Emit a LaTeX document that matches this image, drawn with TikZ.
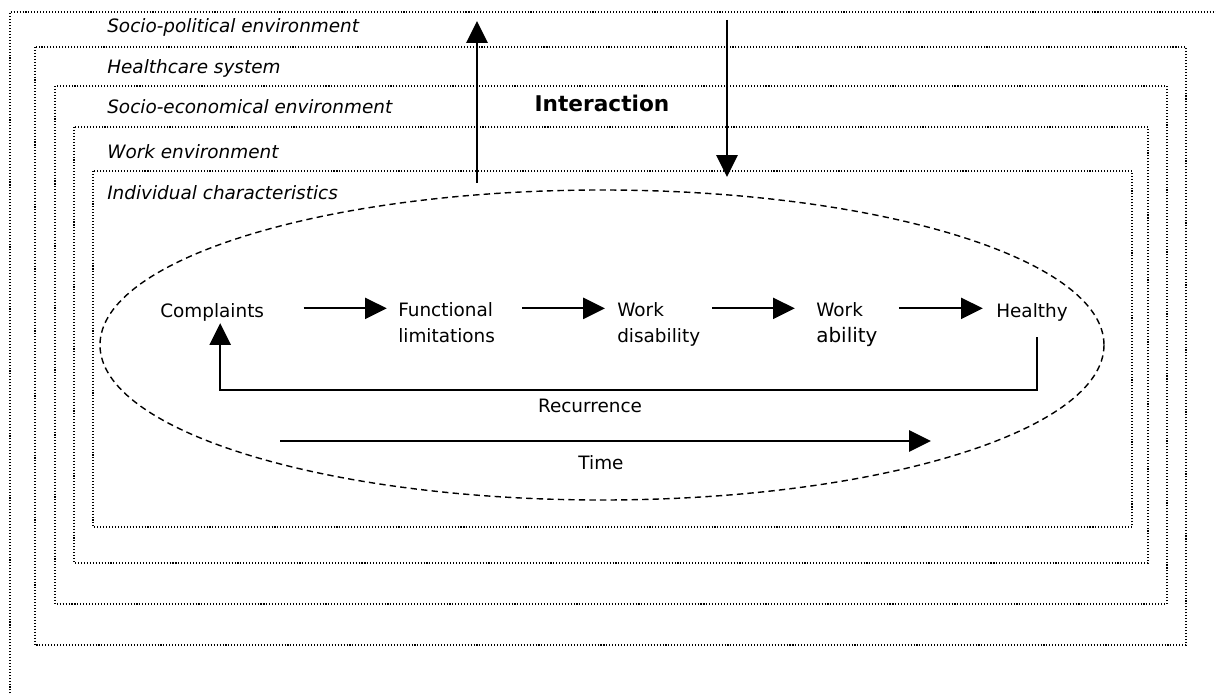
\documentclass[tikz,border=0pt]{standalone}
\usepackage{fontspec}
\setmainfont{DejaVu Sans}
\usetikzlibrary{arrows.meta}

\tikzset{
    layer/.style={dash pattern=on 0.75pt off 1.35pt, line width=0.75pt},
    layerlabel/.style={anchor=west, inner sep=0pt, font=\fontsize{13.1}{15.7}\selectfont\itshape},
    stage/.style={inner sep=0pt, align=left, font=\fontsize{13.1}{17.8}\selectfont},
    flow/.style={line width=1.5pt, -{Triangle[length=15.5pt,width=15pt]}},
}

\begin{document}
\begin{tikzpicture}[x=0.025cm, y=-0.025cm]
            \useasboundingbox (0,0) rectangle (1216,695);
            % Nested environments
            \draw[layer] (  10, 720) |- (1240,  12);
            \draw[layer] (  35,  47) rectangle (1186, 645);
            \draw[layer] (  55,  86) rectangle (1167, 604);
            \draw[layer] (  74, 127) rectangle (1148, 563);
            \draw[layer] (  93, 171) rectangle (1132, 527);
            \node[layerlabel] (polit) at (107,  27) {Socio-political environment};
            \node[layerlabel] (care)  at (107,  68) {Healthcare system};
            \node[layerlabel] (econ)  at (107, 107) {Socio-economical environment};
            \node[layerlabel] (work)  at (107, 152) {Work environment};
            \node[layerlabel] (indiv) at (107, 193) {Individual characteristics};
            % Interaction
            \node[font=\fontsize{15.4}{18}\selectfont\bfseries] (inter) at (602, 103) {Interaction};
            \coordinate (upfrom)   at (477, 183);
            \coordinate (upto)     at (477,  21);
            \coordinate (downfrom) at (727,  20);
            \coordinate (downto)   at (727, 177);
            \draw[flow] (upfrom) -- (upto);
            \draw[flow] (downfrom) -- (downto);
            % Individual course
            \draw[dash pattern=on 4.5pt off 3pt, line width=1pt] (602, 345) ellipse (502 and 155);
            \node[stage, anchor=base west] (compl) at (160, 317) {Complaints};
            \node[stage, anchor=base west] (funct) at (398, 342) {Functional\\limitations};
            \node[stage, anchor=base west] (disab) at (617, 342) {Work\\disability};
            \node[stage, anchor=base west] (abil)  at (816, 343) {Work\\[1.4pt]{\fontsize{14.2}{19}\selectfont ability}};
            \node[stage, anchor=base west] (healt) at (996, 317) {Healthy};
            \coordinate (row) at ([yshift=0.12cm]compl.mid east);
            \draw[flow, shorten <=0.98cm, shorten >=0.28cm] (row) -- (funct.west |- row);
            \draw[flow, shorten <=0.68cm, shorten >=0.30cm] (funct.east |- row) -- (disab.west |- row);
            \draw[flow, shorten <=0.30cm, shorten >=0.53cm] (disab.east |- row) -- (abil.west |- row);
            \draw[flow, shorten <=0.53cm, shorten >=0.33cm] (abil.east |- row) -- (healt.west |- row);
            % Recurrence loop
            \draw[flow, shorten >=0.05cm] ([xshift=0.12cm, yshift=-0.4cm]healt.south) -- ++(0, 53) -| ([xshift=0.2cm]compl.south);
            \node[stage] (recur) at (590, 406) {Recurrence};
            % Time axis
            \coordinate (tstart) at (280, 441);
            \coordinate (tend)   at (931, 441);
            \draw[flow] (tstart) -- (tend);
            \node[stage] (time) at (601, 463) {Time};
\end{tikzpicture}
\end{document}
